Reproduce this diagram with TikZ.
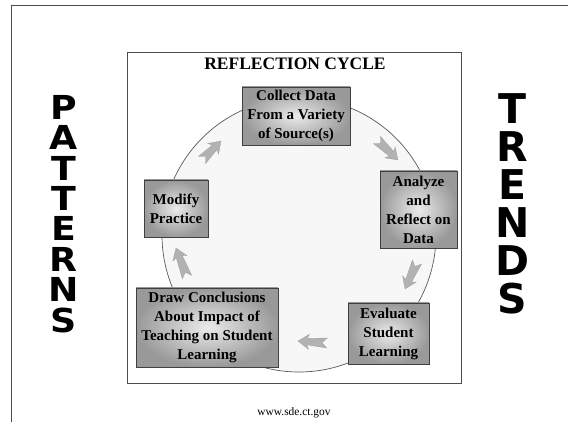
\documentclass[tikz,border=0pt]{standalone}
\usepackage{fontspec}
\setmainfont{Liberation Serif}
\newfontfamily\bigsans{DejaVu Sans}
\usetikzlibrary{calc}
\tikzset{
  stagebox/.style={draw=black!75, line width=0.9pt, inner color=black!8, outer color=black!40,
    align=center, inner sep=0pt, font=\bfseries\fontsize{15}{19}\selectfont},
  cyclearrow/.style={fill=black!30, draw=black!38, line width=0.3pt, line join=miter},
  sidetext/.style={inner sep=0pt, align=center, anchor=north}
}
% fat notched arrow from #1 to #2
\newcommand\cyclearrowdraw[2]{%
  \path[cyclearrow] let \p1=($(#2)-(#1)$), \n1={atan2(\y1,\x1)}, \n2={veclen(\x1,\y1)} in
    ($(#1)+(\n1:\n2)$)
    -- ($(#1)+(\n1:\n2-11pt)+(\n1+90:7.5pt)$)
    -- ($(#1)+(\n1:\n2-9pt)+(\n1+90:3.2pt)$)
    -- ($(#1)+(\n1+90:5pt)$)
    -- ($(#1)+(\n1:5pt)$)
    -- ($(#1)+(\n1-90:5pt)$)
    -- ($(#1)+(\n1:\n2-9pt)+(\n1-90:3.2pt)$)
    -- ($(#1)+(\n1:\n2-11pt)+(\n1-90:7.5pt)$)
    -- cycle;}
\begin{document}
\begin{tikzpicture}[x=1pt,y=-1pt]
\useasboundingbox (0,0) rectangle (568,422);
% outer frame
\draw[black!70, line width=0.8pt] (568,5) -- (11,5) -- (11,422);
% inner frame
\draw[black!70, line width=0.9pt] (127,52) rectangle (461,383);
% cycle circle
\draw[black!65, line width=0.7pt, fill=black!3] (299,235) circle[radius=137];
% title
\node[anchor=base, inner sep=0pt, font=\bfseries\fontsize{17.5}{20}\selectfont] (title) at (295,70) {REFLECTION CYCLE};
% stages
\node[stagebox, minimum width=108, minimum height=58] (collect) at (296,116) {Collect Data\\From a Variety\\of Source(s)};
\node[stagebox, minimum width=77, minimum height=77] (analyze) at (418.5,209.5) {Analyze\\and\\Reflect on\\Data};
\node[stagebox, minimum width=81, minimum height=61] (evaluate) at (388.5,333.5) {Evaluate\\Student\\Learning};
\node[stagebox, minimum width=142, minimum height=79] (conclude) at (207,327.5) {Draw Conclusions\\About Impact of\\Teaching on Student\\Learning};
\node[stagebox, minimum width=64, minimum height=57] (modify) at (176,208.5) {Modify\\Practice};
% arrows
\coordinate (a1s) at (202,160); \coordinate (a1e) at (221,141);
\coordinate (a2s) at (377,140); \coordinate (a2e) at (398,160);
\coordinate (a3s) at (417,262); \coordinate (a3e) at (405,289);
\coordinate (a4s) at (327,343); \coordinate (a4e) at (298,341);
\coordinate (a5s) at (187,277); \coordinate (a5e) at (176,248);
\cyclearrowdraw{a1s}{a1e}
\cyclearrowdraw{a2s}{a2e}
\cyclearrowdraw{a3s}{a3e}
\cyclearrowdraw{a4s}{a4e}
\cyclearrowdraw{a5s}{a5e}
% side words
\begin{scope}[shift={(63.5,95)}, xscale=1.1]
\node[sidetext, transform shape, font=\bigsans\bfseries\fontsize{33}{30.4}\selectfont] (patterns) at (0,0) {P\\A\\T\\T\\E\\R\\N\\S};
\end{scope}
\node[sidetext, font=\bigsans\bfseries\fontsize{41}{38}\selectfont] (trends) at (512.5,93) {T\\R\\E\\N\\D\\S};
% source
\node[anchor=base, inner sep=0pt, font=\fontsize{11.4}{13}\selectfont] (source) at (294,415) {www.sde.ct.gov};
\end{tikzpicture}
\end{document}
